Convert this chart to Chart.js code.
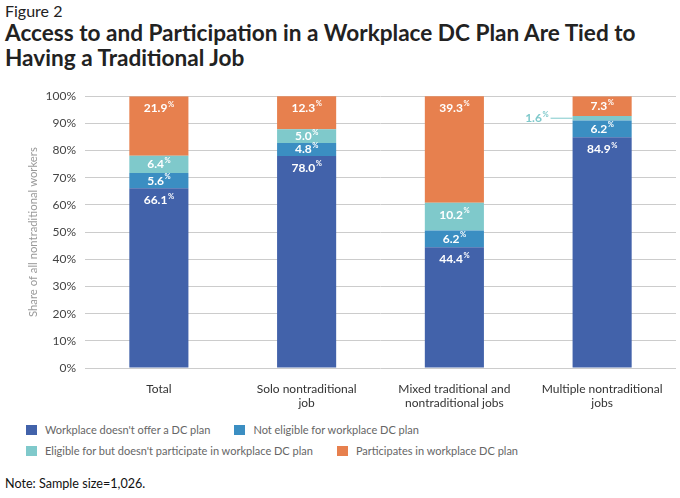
<!DOCTYPE html>
<html>
<head>
<meta charset="utf-8">
<script src="https://cdn.jsdelivr.net/npm/chart.js@4.4.1/dist/chart.umd.min.js"></script>
<style>
  html, body { margin: 0; padding: 0; background: #fff; }
  body { width: 680px; height: 498px; position: relative; overflow: hidden; font-family: Lato, "Open Sans", sans-serif; }
  #fig { position: absolute; left: 5px; top: 1px; font-size: 16px; color: #222; }
  #title { position: absolute; left: 5px; top: 20px; font-size: 22.6px; font-weight: bold; color: #222; line-height: 25px; }
  #wrap { position: absolute; left: 0; top: 80px; width: 680px; height: 330px; }
  #legend { position: absolute; left: 26px; top: 419px; font-size: 11px; color: #666; }
  .row { display: flex; align-items: center; height: 21px; }
  .item { display: flex; align-items: center; margin-right: 24px; }
  .sw { width: 11px; height: 10px; margin-right: 8px; }
  #note { position: absolute; left: 5px; top: 476px; font-size: 12.6px; color: #111; }
</style>
</head>
<body>
<div id="fig">Figure 2</div>
<div id="title">Access to and Participation in a Workplace DC Plan Are Tied to<br>Having a Traditional Job</div>
<div id="wrap"><canvas id="c" width="680" height="330"></canvas></div>
<div id="legend"></div>
<div id="note">Note: Sample size=1,026.</div>
<script>
const categories = [["Total"], ["Solo nontraditional", "job"], ["Mixed traditional and", "nontraditional jobs"], ["Multiple nontraditional", "jobs"]];
const seriesNames = ["Workplace doesn't offer a DC plan", "Not eligible for workplace DC plan", "Eligible for but doesn't participate in workplace DC plan", "Participates in workplace DC plan"];
const doesntOffer = [66.1, 78.0, 44.4, 84.9];
const notEligible = [5.6, 4.8, 6.2, 6.2];
const eligibleNotParticipating = [6.4, 5.0, 10.2, 1.6];
const participates = [21.9, 12.3, 39.3, 7.3];
const yTicks = [0, 10, 20, 30, 40, 50, 60, 70, 80, 90, 100];
const colors = ["#4262AA", "#3B8EC2", "#7FC9CB", "#E7804E"];

const seriesValues = [doesntOffer, notEligible, eligibleNotParticipating, participates];

// HTML legend
const legend = document.getElementById('legend');
[[0, 1], [2, 3]].forEach(pair => {
  const row = document.createElement('div'); row.className = 'row';
  pair.forEach(i => {
    const it = document.createElement('div'); it.className = 'item';
    const sw = document.createElement('div'); sw.className = 'sw'; sw.style.background = colors[i];
    const tx = document.createElement('span'); tx.textContent = seriesNames[i];
    it.appendChild(sw); it.appendChild(tx); row.appendChild(it);
  });
  legend.appendChild(row);
});

const labelPlugin = {
  id: 'segLabels',
  afterDatasetsDraw(chart) {
    const ctx = chart.ctx;
    ctx.save();
    const mainFont = 'bold 12px Lato, sans-serif';
    const supFont = 'bold 7.5px Lato, sans-serif';
    chart.data.datasets.forEach((ds, di) => {
      const meta = chart.getDatasetMeta(di);
      meta.data.forEach((bar, j) => {
        const v = ds.data[j];
        const txt = v.toFixed(1);
        const top = Math.min(bar.y, bar.base), bot = Math.max(bar.y, bar.base);
        ctx.font = mainFont;
        const w1 = ctx.measureText(txt).width;
        ctx.font = supFont;
        const w2 = ctx.measureText('%').width + 0.5;
        ctx.textBaseline = 'middle'; ctx.textAlign = 'left';
        if (bot - top < 8) {
          const cy = (top + bot) / 2;
          const left = bar.x - bar.width / 2;
          ctx.strokeStyle = ds.backgroundColor; ctx.lineWidth = 1;
          ctx.beginPath(); ctx.moveTo(left - 22, cy); ctx.lineTo(left, cy); ctx.stroke();
          const xEnd = left - 24;
          ctx.fillStyle = ds.backgroundColor;
          ctx.font = mainFont;
          ctx.fillText(txt, xEnd - w1 - w2, cy);
          ctx.font = supFont;
          ctx.fillText('%', xEnd - w2 + 0.5, cy - 4);
          return;
        }
        const cy = Math.min(top + 12, (top + bot) / 2);
        const x0 = bar.x - (w1 + w2) / 2;
        ctx.fillStyle = '#fff';
        ctx.font = mainFont;
        ctx.fillText(txt, x0, cy);
        ctx.font = supFont;
        ctx.fillText('%', x0 + w1 + 0.5, cy - 4);
      });
    });
    ctx.restore();
  }
};

new Chart(document.getElementById('c'), {
  type: 'bar',
  data: {
    labels: categories,
    datasets: seriesNames.map((n, i) => ({
      label: n, data: seriesValues[i], backgroundColor: colors[i],
      borderWidth: 0, barPercentage: 0.4, categoryPercentage: 1.0
    }))
  },
  options: {
    responsive: false, animation: false,
    layout: { padding: { top: 16, right: 4, left: 0, bottom: 0 } },
    plugins: { legend: { display: false }, tooltip: { enabled: false } },
    scales: {
      x: {
        stacked: true,
        grid: { display: false },
        border: { display: false },
        ticks: { color: '#333', font: { family: 'Lato', size: 12 }, padding: 6, maxRotation: 0 },
        afterFit(s) { s.height = 42; }
      },
      y: {
        stacked: true, min: 0, max: 100,
        afterBuildTicks(s) { s.ticks = yTicks.map(v => ({ value: v })); },
        grid: { color: '#CCCCCC', lineWidth: 1, drawTicks: false },
        border: { display: false },
        ticks: { color: '#444', font: { family: 'Lato', size: 12 }, padding: 9, callback: v => v + '%' },
        title: { display: true, text: 'Share of all nontraditional workers', color: '#999', font: { family: 'Lato', size: 11.3 }, padding: { top: 27, bottom: 0 } },
        afterFit(s) { s.width = 85; }
      }
    }
  },
  plugins: [labelPlugin]
});
</script>
</body>
</html>
